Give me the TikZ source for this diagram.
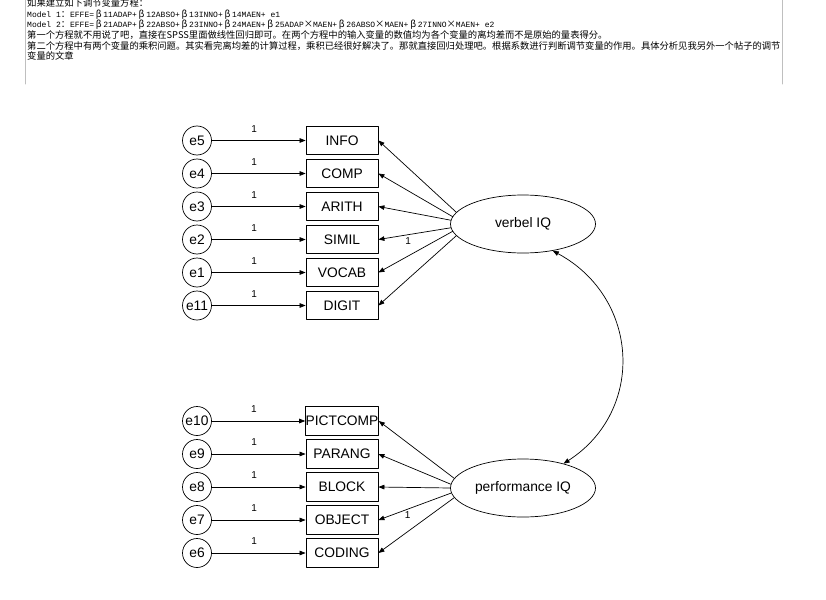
\documentclass[tikz,border=0pt]{standalone}
\usepackage{fontspec}
\setmainfont{Liberation Sans}
\newfontfamily\cjk{Noto Sans CJK SC}
\newfontfamily\monofont{Liberation Mono}
\usetikzlibrary{arrows.meta,shapes.geometric,positioning}
\newcommand{\fw}[1]{\makebox[9.3pt]{\cjk\fontsize{9.3}{11}\selectfont #1}}

\begin{document}
\begin{tikzpicture}[
    x=1pt,y=-1pt,
    font=\fontsize{13.8}{16}\selectfont,
    line cap=round,
    line join=round,
    errnode/.style={circle,draw,line width=0.7pt,minimum size=29pt,inner sep=0pt},
    obsbox/.style={rectangle,draw,line width=0.8pt,minimum width=72pt,minimum height=28.5pt,inner sep=0pt},
    latent/.style={ellipse,draw,line width=0.7pt,minimum width=145pt,minimum height=58pt,inner sep=0pt},
    pathedge/.style={draw=black,line width=0.7pt,-{Triangle[length=6pt,width=4.6pt]}},
    covedge/.style={draw=black,line width=0.7pt,{Triangle[length=6pt,width=4.6pt]}-{Triangle[length=6pt,width=4.6pt]}},
    onelab/.style={font=\fontsize{10}{12}\selectfont,inner sep=1pt},
    cnline/.style={anchor=base west,inner sep=0pt,font=\cjk\fontsize{9.3}{11}\selectfont},
    modline/.style={anchor=base west,inner sep=0pt,font=\monofont\fontsize{8}{10}\selectfont},
    framerule/.style={draw=black!25,line width=1pt}
]
\clip (0,0) rectangle (826,599);


\draw[framerule] (25,0) -- (25,84);
\draw[framerule] (782,0) -- (782,84);

\node[cnline] (t1) at (27,6.5) {如果建立如下调节变量方程：};
\node[modline] (t2) at (27,17.2) {Model 1\fw{：}EFFE=\fw{β}11ADAP+\fw{β}12ABSO+\fw{β}13INNO+\fw{β}14MAEN+ e1};
\node[modline] (t3) at (27,27.9) {Model 2\fw{：}EFFE=\fw{β}21ADAP+\fw{β}22ABSO+\fw{β}23INNO+\fw{β}24MAEN+\fw{β}25ADAP\fw{×}MAEN+\fw{β}26ABSO\fw{×}MAEN+\fw{β}27INNO\fw{×}MAEN+ e2};
\node[cnline] (t4) at (27,38.6) {第一个方程就不用说了吧，直接在SPSS里面做线性回归即可。在两个方程中的输入变量的数值均为各个变量的离均差而不是原始的量表得分。};
\node[cnline] (t5) at (27,49.3) {第二个方程中有两个变量的乘积问题。其实看完离均差的计算过程，乘积已经很好解决了。那就直接回归处理吧。根据系数进行判断调节变量的作用。具体分析见我另外一个帖子的调节};
\node[cnline] (t6) at (27,60) {变量的文章};


\node[latent] (verbal) at (523,224) {verbel IQ};
\node[latent] (perf) at (523,488) {performance IQ};


\foreach \e/\lab [count=\i from 0] in {e5/INFO,e4/COMP,e3/ARITH,e2/SIMIL,e1/VOCAB,e11/DIGIT} {
    \node[errnode] (\e) at (197,{140.5+33*\i}) {\e};
    \node[obsbox] (\lab) at (342,{140.5+33*\i}) {\lab};
    \draw[pathedge] (\e) -- node[onelab,pos=0.45,above=7pt] {1} (\lab);
}

\foreach \lab/\ang in {INFO/170,COMP/174,ARITH/177,VOCAB/186,DIGIT/190} {
    \draw[pathedge] (verbal.\ang) -- (\lab.east);
}
\draw[pathedge] (verbal.183) -- node[onelab,pos=0.59,below=1.5pt] {1} (SIMIL.east);


\foreach \e/\lab [count=\i from 0] in {e10/PICTCOMP,e9/PARANG,e8/BLOCK,e7/OBJECT,e6/CODING} {
    \node[errnode] (\e) at (197,{421+33*\i}) {\e};
    \node[obsbox] (\lab) at (342,{421+33*\i}) {\lab};
    \draw[pathedge] (\e) -- node[onelab,pos=0.45,above=7pt] {1} (\lab);
}

\foreach \lab/\ang in {PICTCOMP/172,PARANG/177,BLOCK/180,CODING/188} {
    \draw[pathedge] (perf.\ang) -- (\lab.east);
}
\draw[pathedge] (perf.184) -- node[onelab,pos=0.6,below=1pt] {1} (OBJECT.east);


\draw[covedge] (verbal.-42) .. controls +(87,47) and +(82,-53) .. (perf.31);
\end{tikzpicture}
\end{document}
